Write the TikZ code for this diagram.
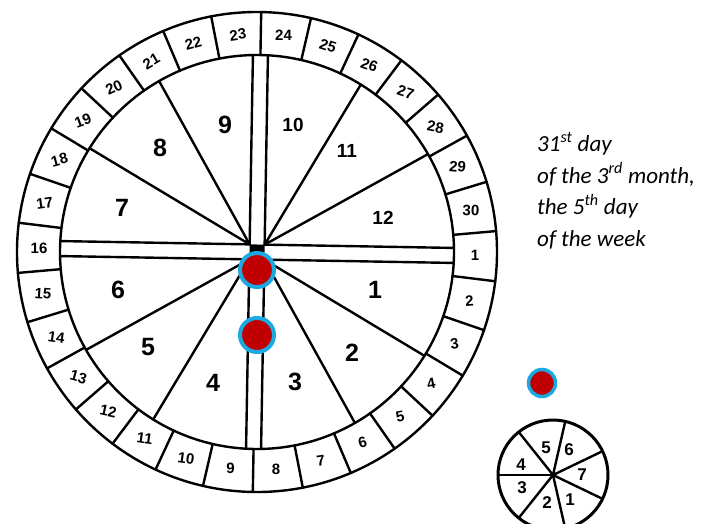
\documentclass[tikz,border=0pt]{standalone}
\usepackage{fontspec}
\setmainfont{Liberation Sans}
\newfontfamily\notefont{Carlito}
\usetikzlibrary{calc}
\definecolor{dotred}{HTML}{C00000}
\definecolor{dotblue}{HTML}{1AA9E1}
\begin{document}
\begin{tikzpicture}[x=1pt,y=1pt,
  ink/.style={line width=2.4pt, line cap=round, line join=round},
  outnum/.style={font=\bfseries\fontsize{15}{15}\selectfont, inner sep=0pt},
  innum/.style={font=\bfseries\fontsize{25}{25}\selectfont, inner sep=0pt},
  innumb/.style={font=\bfseries\fontsize{19}{19}\selectfont, inner sep=0pt},
  smallnum/.style={font=\bfseries\fontsize{17}{17}\selectfont, inner sep=0pt},
  marker/.style={draw=dotblue, fill=dotred, line width=4pt, circle, minimum size=34pt, inner sep=0pt},
  smallmarker/.style={draw=dotblue, fill=dotred, line width=3.5pt, circle, minimum size=27pt, inner sep=0pt},
  note/.style={font=\notefont\itshape\fontsize{23}{23}\selectfont, inner sep=0pt, anchor=base west}]
\clip (0,0) rectangle (715,-523);
\fill[white] (0,0) rectangle (715,-523);

% main wheel
\begin{scope}[shift={(257,-252)}, rotate=-1]
  \draw[ink] (0,0) circle (240);
  \draw[ink] (0,0) circle (197);
  \foreach \m in {0,...,29} \draw[ink] ({6-12*\m}:197) -- ({6-12*\m}:240);
  % central cross bands
  \fill (-7.5,-7.5) rectangle (7.5,7.5);
  \draw[ink] (7.5,7.5) -- (7.5,196.9) (-7.5,7.5) -- (-7.5,196.9);
  \draw[ink] (7.5,-7.5) -- (7.5,-196.9) (-7.5,-7.5) -- (-7.5,-196.9);
  \draw[ink] (7.5,7.5) -- (196.9,7.5) (7.5,-7.5) -- (196.9,-7.5);
  \draw[ink] (-7.5,7.5) -- (-196.9,7.5) (-7.5,-7.5) -- (-196.9,-7.5);
  % spokes
  \draw[ink] (7.5,7.5) -- ++(30:186.7) (7.5,7.5) -- ++(60:186.7);
  \draw[ink] (-7.5,7.5) -- ++(150:186.7) (-7.5,7.5) -- ++(120:186.7);
  \draw[ink] (7.5,-7.5) -- ++(-30:186.7) (7.5,-7.5) -- ++(-60:186.7);
  \draw[ink] (-7.5,-7.5) -- ++(-150:186.7) (-7.5,-7.5) -- ++(-120:186.7);
  % day numbers
  \foreach \k/\r in {1/0,2/4,3/8,4/12,5/12,6/15,7/8,8/0,9/0,10/-8,
                     11/-8,12/-12,13/-15,14/-8,15/-4,16/0,17/8,18/15,19/20,20/25,
                     21/30,22/15,23/8,24/0,25/-18,26/-20,27/-18,28/-10,29/-5,30/-2}
    \node[outnum, rotate=\r] (d\k) at ({-12*(\k-1)}:218) {\k};
\end{scope}

% month numbers
\node[innum]  (m1)  at (375,-290) {1};
\node[innum]  (m2)  at (352,-353) {2};
\node[innum]  (m3)  at (295,-382) {3};
\node[innum]  (m4)  at (213,-383) {4};
\node[innum]  (m5)  at (148,-347) {5};
\node[innum]  (m6)  at (118,-290) {6};
\node[innum]  (m7)  at (122,-208) {7};
\node[innum]  (m8)  at (160,-148) {8};
\node[innum]  (m9)  at (225,-125) {9};
\node[innumb] (m10) at (293,-125) {10};
\node[innumb] (m11) at (347,-151) {11};
\node[innumb] (m12) at (383,-218) {12};

% markers
\node[marker] (p1) at (257,-270) {};
\node[marker] (p2) at (257,-335) {};
\node[smallmarker] (p3) at (542,-383) {};

% week wheel
\begin{scope}[shift={(553,-475)}]
  \draw[line width=3pt] (0,0) circle (55);
  \foreach \i in {0,...,6} \draw[line width=2.4pt] (0,0) -- ({180-51.4286*\i}:55);
\end{scope}
\node[smallnum] (w5) at (546,-448) {5};
\node[smallnum] (w6) at (569,-450) {6};
\node[smallnum] (w7) at (582,-475) {7};
\node[smallnum] (w1) at (570,-500) {1};
\node[smallnum] (w2) at (547,-503) {2};
\node[smallnum] (w3) at (522,-488) {3};
\node[smallnum] (w4) at (521,-465) {4};

% note
\node[note] (t1) at (537,-151.5) {31\textsuperscript{st} day};
\node[note] (t2) at (537,-183) {of the 3\textsuperscript{rd} month,};
\node[note] (t3) at (537,-214.5) {the 5\textsuperscript{th} day};
\node[note] (t4) at (537,-246) {of the week};
\end{tikzpicture}
\end{document}
